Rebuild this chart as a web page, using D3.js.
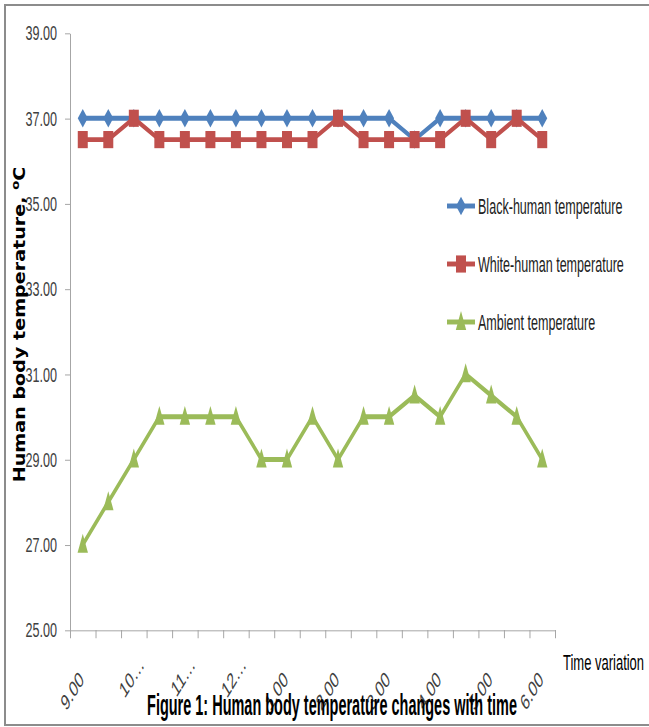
<!DOCTYPE html>
<html>
<head>
<meta charset="utf-8">
<script src="https://cdn.jsdelivr.net/npm/d3@7/dist/d3.min.js"></script>
<style>
  html, body { margin: 0; padding: 0; background: #fff; }
  svg { display: block; }
</style>
</head>
<body>
<svg id="chart" width="649" height="727"></svg>
<script>
// Half-hourly readings, 9.00 am to 6.00 pm
const categories = ["9.00","9.30","10.00","10.30","11.00","11.30","12.00","12.30",
                    "1.00","1.30","2.00","2.30","3.00","3.30","4.00","4.30","5.00","5.30","6.00"];
// Labels shown on every second category (long ones are cut short)
const tickLabels = ["9.00","10…","11…","12…","1.00","2.00","3.00","4.00","5.00","6.00"];
const yTicks = [25, 27, 29, 31, 33, 35, 37, 39];

const blackHuman = [37,37,37,37,37,37,37,37,37,37,37,37,37,36.5,37,37,37,37,37];
const whiteHuman = [36.5,36.5,37,36.5,36.5,36.5,36.5,36.5,36.5,36.5,37,36.5,36.5,36.5,36.5,37,36.5,37,36.5];
const ambient    = [27,28,29,30,30,30,30,29,29,30,29,30,30,30.5,30,31,30.5,30,29];

const seriesNames = ["Black-human temperature", "White-human temperature", "Ambient temperature"];

const series = [
  { name: seriesNames[0], values: blackHuman, color: "#4F81BD", marker: "diamond" },
  { name: seriesNames[1], values: whiteHuman, color: "#C0504D", marker: "square" },
  { name: seriesNames[2], values: ambient,    color: "#9BBB59", marker: "triangle" }
];

const svg = d3.select("#chart");

// Outer frame
svg.append("rect")
  .attr("x", 5).attr("y", 5).attr("width", 700).attr("height", 720)
  .attr("fill", "none").attr("stroke", "#8c8c8c").attr("stroke-width", 2);

// The figure is laid out tall: everything inside is stretched vertically
const S = 1.65;
const g = svg.append("g").attr("transform", `scale(1,${S})`);

const y = d3.scaleLinear().domain([25, 39]).range([630 / S, 33 / S]);
const xb = d3.scaleLinear().domain([0, categories.length]).range([70, 555]);
const xc = i => xb(i + 0.5);

// Y axis
const yAxis = g.append("g")
  .attr("transform", "translate(70,0)")
  .call(d3.axisLeft(y).tickValues(yTicks).tickFormat(d3.format(".2f"))
        .tickSize(5).tickSizeOuter(0).tickPadding(8));
yAxis.select(".domain").attr("stroke", "#a6a6a6").attr("vector-effect", "non-scaling-stroke");
yAxis.selectAll(".tick line").attr("stroke", "#a6a6a6").attr("vector-effect", "non-scaling-stroke");
yAxis.selectAll(".tick text")
  .attr("fill", "#404040")
  .style("font-family", "'Liberation Sans', Arial, sans-serif")
  .style("font-size", "12.6px");

// X axis (ticks between categories)
const xAxis = g.append("g")
  .attr("transform", `translate(0,${630 / S})`)
  .call(d3.axisBottom(xb).tickValues(d3.range(categories.length + 1)).tickFormat("")
        .tickSize(5).tickSizeOuter(0));
xAxis.select(".domain").attr("stroke", "#a6a6a6").attr("vector-effect", "non-scaling-stroke");
xAxis.selectAll(".tick line").attr("stroke", "#a6a6a6").attr("vector-effect", "non-scaling-stroke");

// Category labels on every second point; shortened labels sit a little higher
g.append("g").selectAll("text")
  .data(tickLabels)
  .join("text")
  .attr("transform", (d, k) => `translate(${xc(k * 2) + 2},${681 / S}) rotate(-45)`)
  .attr("dx", d => d.endsWith("…") ? 13 : 0)
  .attr("text-anchor", "end")
  .attr("fill", "#404040")
  .style("font-family", "'Liberation Sans', Arial, sans-serif")
  .style("font-size", "13.5px")
  .text(d => d);

// Marker shapes
const markerPath = {
  diamond:  "M0,-5.6L5,0L0,5.6L-5,0Z",
  square:   "M-5,-5.2h10v10.4h-10Z",
  triangle: "M0,-6.6L5.2,4.9L-5.2,4.9Z"
};

const line = d3.line().x((d, i) => xc(i)).y(d => y(d));

series.forEach(s => {
  g.append("path")
    .datum(s.values)
    .attr("d", line)
    .attr("fill", "none")
    .attr("stroke", s.color)
    .attr("stroke-width", 3)
    .attr("stroke-linejoin", "round");
  g.append("g").selectAll("path")
    .data(s.values)
    .join("path")
    .attr("transform", (d, i) => `translate(${xc(i)},${y(d)})`)
    .attr("d", markerPath[s.marker])
    .attr("fill", s.color);
});

// Legend
const legendRows = [206, 264, 322];
const legend = g.append("g");
series.forEach((s, k) => {
  const ly = legendRows[k] / S;
  legend.append("line")
    .attr("x1", 447).attr("x2", 475).attr("y1", ly).attr("y2", ly)
    .attr("stroke", s.color).attr("stroke-width", 3);
  legend.append("path")
    .attr("transform", `translate(461,${ly})`)
    .attr("d", markerPath[s.marker])
    .attr("fill", s.color);
  legend.append("text")
    .attr("transform", `translate(478,${ly}) scale(0.93,1)`)
    .attr("dy", "0.36em")
    .attr("fill", "#222")
    .style("font-family", "'Liberation Sans', Arial, sans-serif")
    .style("font-size", "13.5px")
    .text(s.name);
});

// Y axis title
const yTitle = g.append("text")
  .attr("transform", `translate(25,${324.5 / S}) rotate(-90) scale(1,1.4)`)
  .attr("text-anchor", "middle")
  .attr("fill", "#000")
  .style("font-family", "'DejaVu Sans', Verdana, sans-serif")
  .style("font-weight", "bold")
  .style("font-size", "11.6px");
yTitle.append("tspan").text("Human body temperature, ");
yTitle.append("tspan").attr("dy", -4).style("font-size", "8px").text("o");
yTitle.append("tspan").attr("dy", 4).text("C");

// X axis title
g.append("text")
  .attr("x", 563).attr("y", 670 / S)
  .attr("fill", "#000")
  .style("font-family", "'Liberation Sans', Arial, sans-serif")
  .style("font-size", "13px")
  .text("Time variation");

// Figure caption
g.append("text")
  .attr("transform", `translate(332,${715 / S}) scale(0.804,1)`)
  .attr("text-anchor", "middle")
  .attr("fill", "#000")
  .style("font-family", "'Liberation Sans', Arial, sans-serif")
  .style("font-weight", "bold")
  .style("font-size", "18px")
  .text("Figure 1: Human body temperature changes with time");
</script>
</body>
</html>
